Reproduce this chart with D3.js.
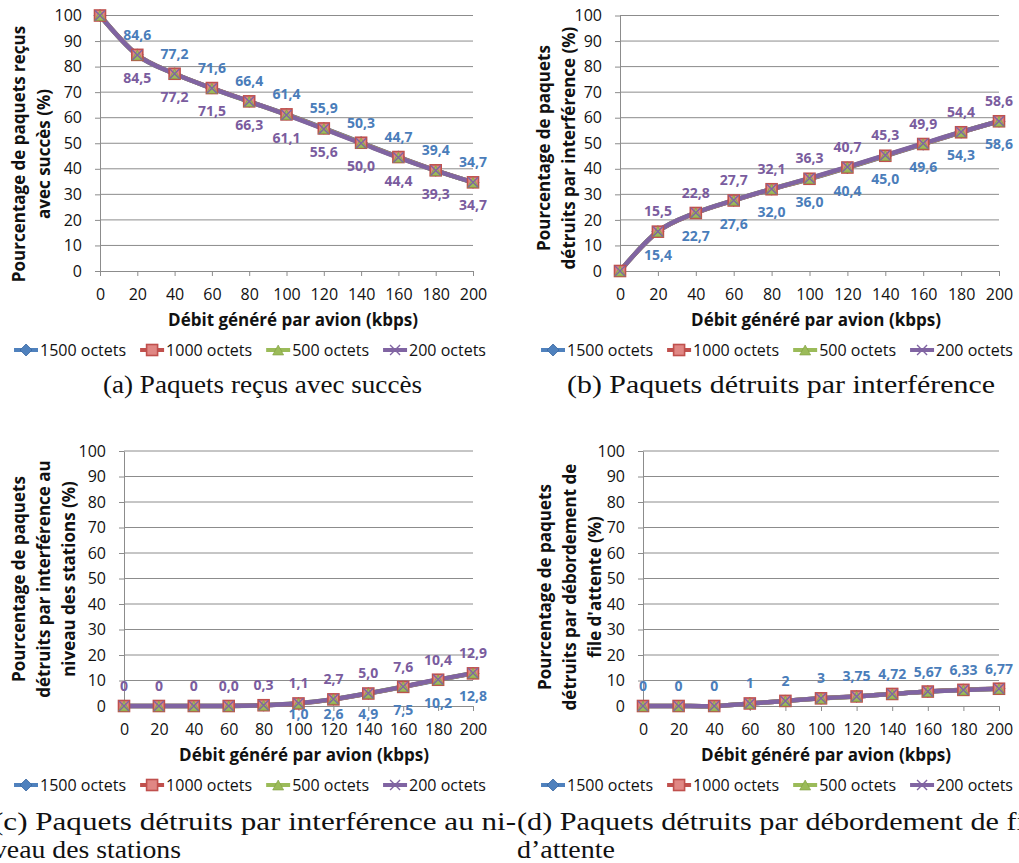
<!DOCTYPE html>
<html>
<head>
<meta charset="utf-8">
<script src="https://cdn.jsdelivr.net/npm/d3@7"></script>
<style>
  body { margin: 0; background: #fff; }
  svg { display: block; }
</style>
</head>
<body>
<svg id="chart" width="1019" height="863"></svg>
<script>
// Débit généré par avion (kbps)
const categories = [0, 20, 40, 60, 80, 100, 120, 140, 160, 180, 200];
const yTicks = [0, 10, 20, 30, 40, 50, 60, 70, 80, 90, 100];
const seriesNames = ['1500 octets', '1000 octets', '500 octets', '200 octets'];
const seriesColors = ['#4F81BD', '#C0504D', '#9BBB59', '#8064A2'];
const markerTypes = ['diamond', 'square', 'triangle', 'x'];

// (a) paquets reçus avec succès
const recus1500 = [100, 84.6, 77.2, 71.6, 66.4, 61.4, 55.9, 50.3, 44.7, 39.4, 34.7];
const recus1000 = [100, 84.6, 77.2, 71.6, 66.4, 61.3, 55.8, 50.2, 44.6, 39.4, 34.7];
const recus500  = [100, 84.5, 77.2, 71.5, 66.3, 61.2, 55.7, 50.1, 44.5, 39.3, 34.7];
const recus200  = [100, 84.5, 77.2, 71.5, 66.3, 61.1, 55.6, 50.0, 44.4, 39.3, 34.7];

// (b) paquets détruits par interférence
const interf1500 = [0, 15.4, 22.7, 27.6, 32.0, 36.0, 40.4, 45.0, 49.6, 54.3, 58.6];
const interf1000 = [0, 15.4, 22.7, 27.6, 32.0, 36.1, 40.5, 45.1, 49.7, 54.3, 58.6];
const interf500  = [0, 15.5, 22.8, 27.7, 32.1, 36.2, 40.6, 45.2, 49.8, 54.4, 58.6];
const interf200  = [0, 15.5, 22.8, 27.7, 32.1, 36.3, 40.7, 45.3, 49.9, 54.4, 58.6];

// (c) paquets détruits par interférence au niveau des stations
const stations1500 = [0, 0, 0, 0, 0.3, 1.0, 2.6, 4.9, 7.5, 10.2, 12.8];
const stations1000 = [0, 0, 0, 0, 0.3, 1.0, 2.6, 4.9, 7.5, 10.3, 12.8];
const stations500  = [0, 0, 0, 0, 0.3, 1.1, 2.7, 5.0, 7.6, 10.3, 12.9];
const stations200  = [0, 0, 0, 0.04, 0.3, 1.1, 2.7, 5.0, 7.6, 10.4, 12.9];

// (d) paquets détruits par débordement de file d'attente
const attente1500 = [0, 0, 0, 1, 2, 3, 3.75, 4.72, 5.67, 6.33, 6.77];
const attente1000 = [0, 0, 0, 1, 2, 3, 3.75, 4.72, 5.67, 6.33, 6.77];
const attente500  = [0, 0, 0, 1, 2, 3, 3.74, 4.71, 5.66, 6.32, 6.76];
const attente200  = [0, 0, 0, 1, 2, 3, 3.74, 4.70, 5.65, 6.31, 6.75];

const xTitle = 'Débit généré par avion (kbps)';

let comma1 = v => d3.format('.1f')(v).replace('.', ',');
let commaZero = v => v === 0 ? '0' : comma1(v);
let commaRaw = v => String(v).replace('.', ',');

let panels = [
    {
        data: [recus1500, recus1000, recus500, recus200],
        x0: 100, x1: 473, top: 15.5, bottom: 271,
        yTitle: ['Pourcentage de paquets reçus', 'avec succès (%)'],
        yTitleX: [25, 50], yTitleCy: 154,
        labels: [
            {series: 0, pos: 'above', from: 1, fmt: comma1},
            {series: 3, pos: 'below', from: 1, fmt: comma1}
        ],
        xTitleCx: 293,
        legendCx: 250
    },
    {
        data: [interf1500, interf1000, interf500, interf200],
        x0: 620, x1: 999, top: 15.5, bottom: 271,
        yTitle: ['Pourcentage de paquets', 'détruits par interférence (%)'],
        yTitleX: [550, 575], yTitleCy: 148,
        labels: [
            {series: 3, pos: 'above', from: 1, fmt: comma1},
            {series: 0, pos: 'below', from: 1, fmt: comma1}
        ],
        xTitleCx: 816,
        legendCx: 777
    },
    {
        data: [stations1500, stations1000, stations500, stations200],
        x0: 124, x1: 473, top: 451, bottom: 706,
        yTitle: ['Pourcentage de paquets', 'détruits par interférence au', 'niveau des stations (%)'],
        yTitleX: [25, 50, 75], yTitleCy: 579,
        labels: [
            {series: 3, pos: 'above', from: 0, fmt: commaZero},
            {series: 0, pos: 'below', from: 5, fmt: comma1}
        ],
        xTitleCx: 304,
        legendCx: 250
    },
    {
        data: [attente1500, attente1000, attente500, attente200],
        x0: 643, x1: 999, top: 451, bottom: 706,
        yTitle: ['Pourcentage de paquets', 'détruits par débordement de', "file d'attente (%)"],
        yTitleX: [551, 576, 601], yTitleCy: 587,
        labels: [
            {series: 0, pos: 'above', from: 0, fmt: commaRaw}
        ],
        xTitleCx: 826,
        legendCx: 777
    }
];

const captions = [
    {lines: ['(a) Paquets reçus avec succès'], x: 103, y: 393, widths: [319]},
    {lines: ['(b) Paquets détruits par interférence'], x: 567, y: 393, widths: [428]},
    {lines: ['(c) Paquets détruits par interférence au ni-', 'veau des stations'], x: -7, y: 830, widths: [523, 188]},
    {lines: ['(d) Paquets détruits par débordement de fi', 'd’attente'], x: 517, y: 830, widths: [508, 98]}
];

const GRID = '#8C8C8C';
const FONT = "'Open Sans', sans-serif";
const X_TITLE_WIDTH = 250;
let svg = d3.select('#chart');
svg.append('rect').attr('width', 1019).attr('height', 863).attr('fill', '#fff');

let drawMarker = (g, type, color, cx, cy) => {
    if (type === 'diamond') {
        g.append('path')
            .attr('d', `M${cx},${cy - 6}L${cx + 6},${cy}L${cx},${cy + 6}L${cx - 6},${cy}Z`)
            .attr('fill', color).attr('stroke', '#3A67A0').attr('stroke-width', 0.8);
    } else if (type === 'square') {
        g.append('rect')
            .attr('x', cx - 5.5).attr('y', cy - 5.5).attr('width', 11).attr('height', 11)
            .attr('fill', '#E08784').attr('stroke', color).attr('stroke-width', 1.6);
    } else if (type === 'triangle') {
        g.append('path')
            .attr('d', `M${cx},${cy - 5}L${cx + 5.5},${cy + 5}L${cx - 5.5},${cy + 5}Z`)
            .attr('fill', color).attr('stroke', '#7F9E40').attr('stroke-width', 0.6);
    } else {
        g.append('path')
            .attr('d', `M${cx - 5},${cy - 5}L${cx + 5},${cy + 5}M${cx + 5},${cy - 5}L${cx - 5},${cy + 5}`)
            .attr('stroke', color).attr('stroke-width', 1.4).attr('fill', 'none');
    }
};

panels.forEach((p) => {
    let g = svg.append('g');
    let x = d3.scaleLinear().domain([0, 200]).range([p.x0, p.x1]);
    let y = d3.scaleLinear().domain([0, 100]).range([p.bottom, p.top]);

    // Gridlines.
    g.append('g').selectAll('line')
        .data(yTicks.filter(t => t > 0))
      .enter().append('line')
        .attr('x1', p.x0).attr('x2', p.x1)
        .attr('y1', d => y(d)).attr('y2', d => y(d))
        .attr('stroke', GRID).attr('stroke-width', 1);

    // Y axis.
    let yAxis = g.append('g')
        .attr('transform', `translate(${p.x0},0)`)
        .call(d3.axisLeft(y).tickValues(yTicks).tickSize(5).tickSizeOuter(0).tickPadding(13));
    yAxis.selectAll('line, path').attr('stroke', GRID);
    yAxis.selectAll('text').attr('font-family', FONT).attr('font-size', 16).attr('fill', '#111');

    // X axis.
    let xAxis = g.append('g')
        .attr('transform', `translate(0,${p.bottom})`)
        .call(d3.axisBottom(x).tickValues(categories).tickSize(5).tickSizeOuter(0).tickPadding(13));
    xAxis.selectAll('line, path').attr('stroke', GRID);
    xAxis.selectAll('text').attr('font-family', FONT).attr('font-size', 16).attr('fill', '#111');

    // Axis titles.
    let xt = g.append('text')
        .attr('x', p.xTitleCx).attr('y', p.bottom + 55)
        .attr('text-anchor', 'middle')
        .attr('font-family', FONT).attr('font-size', 17).attr('font-weight', 'bold')
        .attr('fill', '#111')
        .text(xTitle);
    let xtLen = xt.node().getComputedTextLength();
    xt.attr('font-size', Math.min(18, 17 * X_TITLE_WIDTH / xtLen));

    p.yTitle.forEach((line, i) => {
        g.append('text')
            .attr('transform', `translate(${p.yTitleX[i]},${p.yTitleCy}) rotate(-90)`)
            .attr('text-anchor', 'middle')
            .attr('font-family', FONT).attr('font-size', 17).attr('font-weight', 'bold')
            .attr('fill', '#111')
            .text(line);
    });

    // Lines.
    let line = d3.line()
        .x((d, i) => x(categories[i]))
        .y(d => y(d))
        .curve(d3.curveCardinal.tension(0));
    p.data.forEach((values, s) => {
        g.append('path')
            .attr('d', line(values))
            .attr('fill', 'none')
            .attr('stroke', seriesColors[s])
            .attr('stroke-width', 4.5)
            .attr('stroke-linejoin', 'round')
            .attr('stroke-linecap', 'round');
    });

    // Markers.
    p.data.forEach((values, s) => {
        let mg = g.append('g');
        values.forEach((v, i) => drawMarker(mg, markerTypes[s], seriesColors[s], x(categories[i]), y(v)));
    });

    // Data labels.
    p.labels.forEach((lab) => {
        let values = p.data[lab.series];
        let color = lab.series === 0 ? '#4A7DBA' : '#7A5C9E';
        values.forEach((v, i) => {
            if (i < lab.from) return;
            let cy = lab.pos === 'above' ? y(v) - 20 : Math.min(y(v) + 23, p.bottom + 8);
            g.append('text')
                .attr('x', x(categories[i])).attr('y', cy)
                .attr('dy', '0.36em')
                .attr('text-anchor', 'middle')
                .attr('font-family', FONT).attr('font-size', 14).attr('font-weight', 'bold')
                .attr('fill', color)
                .text(lab.fmt(v));
        });
    });

    // Legend.
    let legend = g.append('g');
    let ly = p.bottom + 79;
    let cursor = 0;
    seriesNames.forEach((name, s) => {
        let item = legend.append('g');
        item.append('line')
            .attr('x1', 0).attr('x2', 24).attr('y1', ly).attr('y2', ly)
            .attr('stroke', seriesColors[s]).attr('stroke-width', 4);
        drawMarker(item, markerTypes[s], seriesColors[s], 12, ly);
        let t = item.append('text')
            .attr('x', 26).attr('y', ly).attr('dy', '0.36em')
            .attr('font-family', FONT).attr('font-size', 16).attr('fill', '#111')
            .text(name);
        let w = 26 + t.node().getComputedTextLength();
        item.attr('transform', `translate(${cursor},0)`);
        cursor += w + 14;
    });
    let total = cursor - 14;
    legend.attr('transform', `translate(${p.legendCx - total / 2},0)`);
});

// Captions.
captions.forEach((c) => {
    c.lines.forEach((line, i) => {
        svg.append('text')
            .attr('x', c.x).attr('y', c.y + i * 28)
            .attr('font-family', "'Liberation Serif', serif").attr('font-size', 25)
            .attr('fill', '#111')
            .attr('textLength', c.widths[i])
            .attr('lengthAdjust', 'spacingAndGlyphs')
            .text(line);
    });
});
</script>
</body>
</html>
